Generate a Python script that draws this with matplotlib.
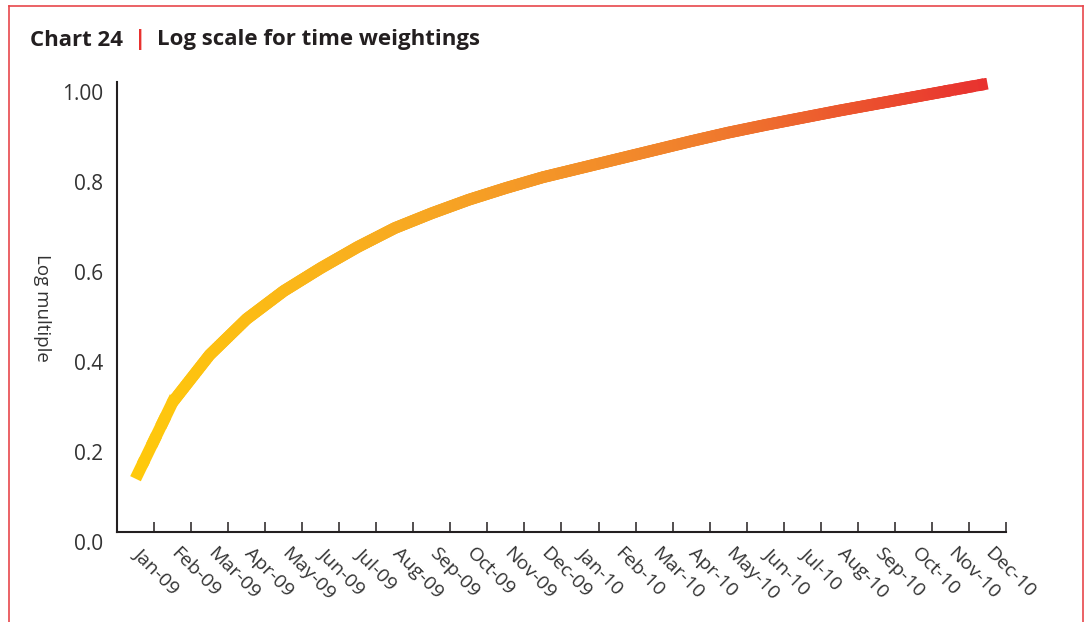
import numpy as np
import matplotlib.pyplot as plt
from matplotlib.collections import LineCollection
from matplotlib.colors import LinearSegmentedColormap
from matplotlib.lines import Line2D
from matplotlib.transforms import ScaledTranslation

months = ['Jan-09', 'Feb-09', 'Mar-09', 'Apr-09', 'May-09', 'Jun-09',
          'Jul-09', 'Aug-09', 'Sep-09', 'Oct-09', 'Nov-09', 'Dec-09',
          'Jan-10', 'Feb-10', 'Mar-10', 'Apr-10', 'May-10', 'Jun-10',
          'Jul-10', 'Aug-10', 'Sep-10', 'Oct-10', 'Nov-10', 'Dec-10']
log_multiple = [0.14, 0.31, 0.415, 0.495, 0.557, 0.608, 0.655, 0.697,
                0.730, 0.760, 0.786, 0.810, 0.830, 0.850, 0.870, 0.890,
                0.909, 0.926, 0.942, 0.958, 0.973, 0.988, 1.003, 1.018]
y_ticks = [0.0, 0.2, 0.4, 0.6, 0.8, 1.0]
y_tick_labels = ['0.0', '0.2', '0.4', '0.6', '0.8', '1.00']

plt.rcParams['font.family'] = ['Open Sans', 'DejaVu Sans']
text_col = '#333333'
axis_col = '#231f20'
red = '#e8312f'

fig = plt.figure(figsize=(10.89, 6.22), dpi=100)
W, H = 1089, 622

# outer red frame (bottom edge runs off the page)
frame = [([9, 9], [6, 640]), ([9, 1083], [6, 6]), ([1083, 1083], [6, 640])]
for xs, ys in frame:
    fig.add_artist(Line2D([v / W for v in xs], [1 - v / H for v in ys],
                          color='#e8474b', lw=1.2))

# title
fig.text(30 / W, 1 - 40 / H, 'Chart 24', fontsize=16, fontweight='bold',
         color='#231f20', va='center', ha='left')
fig.text(140.5 / W, 1 - 40 / H, '|', fontsize=16, fontweight='bold',
         color=red, va='center', ha='center')
fig.text(157 / W, 1 - 40 / H, 'Log scale for time weightings', fontsize=16,
         fontweight='bold', color='#231f20', va='center', ha='left')

ax_left, ax_right = 117, 1006
zero_px, px_per_unit = 541.7, 450
ymax = 1.03
ax = fig.add_axes([ax_left / W, 1 - zero_px / H,
                   (ax_right - ax_left) / W, ymax * px_per_unit / H])

x = np.arange(len(months))
y = np.array(log_multiple)

# gradient stroke: split the polyline into short pieces, colour by x.
# inner pieces get round caps so the joins stay solid; the two outer
# intervals use fewer pieces, square-ended, with a flat cut at the very ends
cmap = LinearSegmentedColormap.from_list('yo_r', ['#ffc90b', '#f7a823', '#f07f2d', '#e8312f'])
last = len(x) - 2
segs, caps = [], []
for i in range(len(x) - 1):
    n_sub = 4 if i in (0, last) else 20
    t = np.linspace(0, 1, n_sub + 1)
    sx = x[i] + (x[i + 1] - x[i]) * t
    sy = y[i] + (y[i + 1] - y[i]) * t
    for k in range(n_sub):
        segs.append([[sx[k], sy[k]], [sx[k + 1], sy[k + 1]]])
        if (i == 0 and k == 0) or (i == last and k == n_sub - 1):
            caps.append('butt')
        elif i in (0, last):
            caps.append('projecting')
        else:
            caps.append('round')
segs = np.array(segs)
caps = np.array(caps)
mids = (segs[:, 0, 0] + segs[:, 1, 0]) / 2
cols = cmap(mids / x[-1])
for cap in ['round', 'projecting', 'butt']:
    m = caps == cap
    ax.add_collection(LineCollection(segs[m], colors=cols[m], linewidths=8.5,
                                     capstyle=cap, zorder=3))

ax.set_xlim(-0.5, len(months) - 0.5)
ax.set_ylim(0, ymax)

spine_y = 0.0215
ax.spines['top'].set_visible(False)
ax.spines['right'].set_visible(False)
ax.spines['bottom'].set_position(('data', spine_y))
ax.spines['left'].set_bounds(spine_y, 1.0215)
for s in ['bottom', 'left']:
    ax.spines[s].set_linewidth(1.5)
    ax.spines[s].set_color(axis_col)

ax.set_yticks(y_ticks)
ax.set_yticklabels(y_tick_labels)
ax.tick_params(axis='y', length=0, pad=10, labelsize=15, labelcolor=text_col)

ax.set_xticks(np.arange(len(months)) + 0.5)
ax.set_xticklabels([])
ax.set_xticks(x, minor=True)
ax.set_xticklabels(months, minor=True, rotation=-45, ha='left', va='top',
                   rotation_mode='anchor')
ax.tick_params(axis='x', which='major', direction='in', length=7.5, width=1.1,
               color=axis_col)
ax.tick_params(axis='x', which='minor', length=0, pad=9, labelsize=14,
               labelcolor=text_col)
shift = ScaledTranslation(7 / 100, 0, fig.dpi_scale_trans)
for lbl in ax.get_xticklabels(minor=True):
    lbl.set_transform(lbl.get_transform() + shift)

fig.text(42 / W, 1 - 308 / H, 'Log multiple', rotation=270, fontsize=13.5,
         color=text_col, ha='center', va='center')

fig.savefig('out.png', dpi=100)
